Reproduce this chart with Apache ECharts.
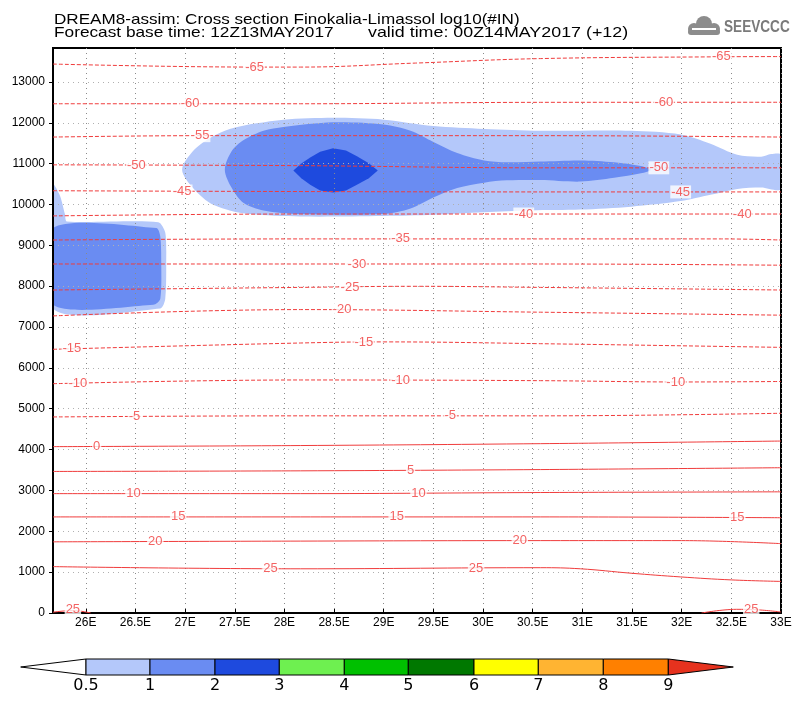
<!DOCTYPE html>
<html><head><meta charset="utf-8">
<script src="https://cdn.jsdelivr.net/npm/echarts@6/dist/echarts.min.js"></script>
<style>html,body{margin:0;padding:0;background:#fff}#c{width:800px;height:704px}</style>
</head><body><div id="c"></div>
<script>
// ---- axes ----
const lonTicks = [26,26.5,27,27.5,28,28.5,29,29.5,30,30.5,31,31.5,32,32.5,33];
const heightTicks = [0,1000,2000,3000,4000,5000,6000,7000,8000,9000,10000,11000,12000,13000];
// ---- colour scale (log10 #IN) ----
const scaleLevels = ['0.5','1','2','3','4','5','6','7','8','9'];
const scaleColors = ['#b4c8fa','#6a8cf2','#1e4ade','#6ef050','#00c000','#007800','#ffff00','#ffb432','#ff8000','#e6321e'];
// ---- shaded areas [lon, height m] ----
const areaLowLeft  = [[25.67,10490],[25.74,10216],[25.79,9766],[25.81,9583],[26.73,9565],[26.80,9311],[26.81,8592],[26.80,7686],[26.75,7454],[25.67,7454]];
const areaMidLeft  = [[25.67,9423],[26.71,9423],[26.75,9220],[26.76,8592],[26.75,7686],[26.68,7544],[25.67,7544]];
const areaLowUpper = [[26.97,10852],[27.08,11308],[27.25,11626],[27.45,11848],[27.72,11985],[27.99,12076],[28.49,12120],[29.0,12076],[29.5,11919],[30.01,11848],[30.58,11804],[31.49,11804],[31.99,11714],[32.29,11486],[32.56,11215],[32.80,11168],[32.90,11234],[33.0,11215],[33.0,10380],[32.80,10417],[32.56,10380],[32.29,10236],[31.99,10082],[31.49,9945],[30.98,9874],[30.48,9854],[30.01,9810],[29.5,9746],[29.0,9717],[28.16,9705],[27.65,9766],[27.45,9854],[27.25,10035],[27.08,10402]];
const areaMidUpper = [[27.40,10852],[27.47,11308],[27.59,11577],[27.79,11804],[27.99,11895],[28.49,12012],[29.0,11959],[29.27,11804],[29.50,11530],[29.74,11259],[30.01,11078],[30.24,11034],[30.58,11051],[30.98,11078],[31.32,11034],[31.59,10940],[31.69,10852],[31.59,10762],[31.32,10652],[30.98,10560],[30.58,10600],[30.24,10590],[30.01,10534],[29.74,10402],[29.50,10172],[29.27,9901],[29.0,9766],[28.16,9766],[27.79,9854],[27.59,10035],[27.47,10402]];
const areaHighUpper = [[28.09,10833],[28.17,11000],[28.26,11150],[28.36,11290],[28.49,11379],[28.62,11320],[28.73,11180],[28.85,11010],[28.94,10833],[28.85,10640],[28.73,10480],[28.62,10340],[28.49,10290],[28.36,10340],[28.26,10480],[28.17,10640]];
// ---- temperature contours (degC) [lon, height m] ----
const tM65 = [[25.67,13437],[27.70,13363],[28.16,13363],[29.32,13461],[30.58,13571],[32.40,13615],[33,13620]];
const tM60 = [[25.67,12465],[28.16,12465],[30.58,12500],[33,12502]];
const tM55 = [[25.67,11650],[27.15,11684],[30.58,11684],[33,11650]];
const tM50 = [[25.67,10970],[28.16,10950],[30.58,10897],[33,10897]];
const tM45 = [[25.67,10336],[30.58,10307],[33,10307]];
const tM40 = [[25.67,9720],[28.16,9766],[33,9766]];
const tM35 = [[25.67,9130],[28.16,9157],[32.4,9157],[33,9130]];
const tM30 = [[25.67,8543],[30.58,8543],[33,8513]];
const tM25 = [[25.67,7906],[28.16,7970],[29.3,7997],[30.58,7970],[33,7906]];
const tM20 = [[25.67,7272],[28.16,7427],[30.58,7363],[33,7290]];
const tM15 = [[25.67,6455],[28.16,6609],[29,6636],[30.58,6592],[33,6502]];
const tM10 = [[25.67,5613],[28.16,5704],[30.58,5687],[32,5655],[33,5667]];
const tM5  = [[25.67,4799],[28.16,4826],[30.58,4826],[33,4889]];
const t0   = [[25.67,4072],[28.16,4099],[30.58,4145],[33,4209]];
const t5   = [[25.67,3465],[28.16,3480],[30.58,3511],[33,3556]];
const t10  = [[25.67,2922],[28.16,2922],[30.58,2949],[33,2966]];
const t15  = [[25.67,2352],[30.58,2352],[33,2332]];
const t20  = [[25.67,1742],[28.16,1760],[30.58,1772],[32,1772],[33,1698]];
const t25  = [[25.67,1135],[28.16,1082],[30.58,1109],[30.98,1082],[31.49,974],[31.99,883],[32.5,810],[33,773]];
const t25bl = [[25.67,20],[25.87,60],[26.05,0]];
const t25br = [[32.2,0],[32.55,90],[32.75,80],[33,25]];
// contour labels [lon, height, text]
const contourLabels = [
  [27.70,13363,'-65'],[32.40,13615,'-65'],
  [27.05,12465,'-60'],[31.82,12500,'-60'],
  [27.15,11684,'-55'],
  [26.51,10965,'-50'],[31.77,10897,'-50'],
  [26.97,10330,'-45'],[31.99,10307,'-45'],
  [30.41,9766,'-40'],[32.61,9766,'-40'],
  [29.17,9157,'-35'],
  [28.73,8543,'-30'],
  [28.66,7975,'-25'],
  [28.58,7430,'-20'],
  [25.86,6470,'-15'],[28.80,6630,'-15'],
  [25.92,5620,'-10'],[29.17,5700,'-10'],[31.94,5645,'-10'],
  [26.49,4805,'-5'],[29.67,4826,'-5'],
  [26.11,4075,'0'],
  [29.27,3490,'5'],
  [26.48,2922,'10'],[29.35,2935,'10'],
  [26.93,2352,'15'],[29.13,2352,'15'],[32.56,2340,'15'],
  [26.70,1745,'20'],[30.37,1772,'20'],
  [27.86,1090,'25'],[29.93,1100,'25'],
  [25.87,90,'25'],[32.70,80,'25']
];

const RED = '#f03c3c';
const contours = [
  [tM65,true],[tM60,true],[tM55,true],[tM50,true],[tM45,true],[tM40,true],[tM35,true],
  [tM30,true],[tM25,true],[tM20,true],[tM15,true],[tM10,true],[tM5,true],
  [t0,false],[t5,false],[t10,false],[t15,false],[t20,false],[t25,false],[t25bl,false],[t25br,false]
];

function areaSeries(points, color, smooth) {
  return {
    type: 'custom', z: 1, silent: true, clip: true,
    data: [points[0]],
    renderItem: function (params, api) {
      return {
        type: 'polygon',
        shape: { points: points.map(function (p) { return api.coord(p); }), smooth: smooth },
        style: { fill: color }
      };
    }
  };
}

const series = [
  areaSeries(areaLowLeft, scaleColors[0], 0.25),
  areaSeries(areaMidLeft, scaleColors[1], 0.25),
  areaSeries(areaLowUpper, scaleColors[0], 0.3),
  areaSeries(areaMidUpper, scaleColors[1], 0.3),
  areaSeries(areaHighUpper, scaleColors[2], 0)
];
contours.forEach(function (c) {
  series.push({
    type: 'line', z: 4, silent: true, data: c[0], smooth: 0.4, symbol: 'none',
    lineStyle: { color: RED, width: 1, type: c[1] ? [4, 2] : 'solid' }
  });
});
series.push({
  type: 'scatter', z: 6, silent: true, symbolSize: 0, data: contourLabels,
  label: {
    show: true, position: 'inside', formatter: function (p) { return p.data[2]; },
    color: RED, fontSize: 13, fontFamily: 'Liberation Sans, Arial, sans-serif',
    backgroundColor: '#fff', padding: [0, 1]
  }
});

// colour bar graphic
const cbEdges = [86,150,215,279.3,344.3,408.3,474,538.3,603.3,668.3];
const cbTop = 659, cbBot = 675, cbMid = 667;
const graphics = [];
graphics.push({ type: 'polygon', shape: { points: [[20.7,cbMid],[86,cbTop],[86,cbBot]] }, style: { fill: '#fff', stroke: '#000', lineWidth: 1 } });
for (let i = 0; i < cbEdges.length - 1; i++) {
  graphics.push({ type: 'rect', shape: { x: cbEdges[i], y: cbTop, width: cbEdges[i+1]-cbEdges[i], height: cbBot-cbTop }, style: { fill: scaleColors[i], stroke: '#000', lineWidth: 1 } });
}
graphics.push({ type: 'polygon', shape: { points: [[668.3,cbTop],[733.3,cbMid],[668.3,cbBot]] }, style: { fill: scaleColors[9], stroke: '#000', lineWidth: 1 } });
scaleLevels.forEach(function (t, i) {
  graphics.push({ type: 'text', x: cbEdges[i], y: 686, style: { text: t, fill: '#000', font: '16px "DejaVu Sans", sans-serif', textAlign: 'center', textVerticalAlign: 'middle' } });
});
// titles
const TF = '15px "Liberation Sans", Arial, sans-serif';
graphics.push({ type: 'text', x: 54, y: 20, scaleX: 1.14, style: { text: 'DREAM8-assim: Cross section Finokalia-Limassol log10(#IN)', fill: '#000', font: TF, textVerticalAlign: 'middle' } });
graphics.push({ type: 'text', x: 54, y: 33, scaleX: 1.15, style: { text: 'Forecast base time: 12Z13MAY2017', fill: '#000', font: TF, textVerticalAlign: 'middle' } });
graphics.push({ type: 'text', x: 368, y: 33, scaleX: 1.19, style: { text: 'valid time: 00Z14MAY2017 (+12)', fill: '#000', font: TF, textVerticalAlign: 'middle' } });
// logo
graphics.push({ type: 'group', children: [
  { type: 'circle', shape: { cx: 694, cy: 29, r: 6 }, style: { fill: '#8c8c8c' } },
  { type: 'circle', shape: { cx: 704, cy: 24, r: 8 }, style: { fill: '#8c8c8c' } },
  { type: 'circle', shape: { cx: 714, cy: 29, r: 6 }, style: { fill: '#8c8c8c' } },
  { type: 'rect', shape: { x: 688, y: 29, width: 32, height: 6, r: 3 }, style: { fill: '#8c8c8c' } },
  { type: 'rect', shape: { x: 692, y: 28, width: 24, height: 2 }, style: { fill: '#fff' } }
]});
graphics.push({ type: 'text', x: 724, y: 28, scaleX: 0.85, style: { text: 'SEEVCCC', fill: '#7a7a7a', font: 'bold 16px "Liberation Sans Narrow", "Liberation Sans", sans-serif', textVerticalAlign: 'middle' } });

const chart = echarts.init(document.getElementById('c'), null, { renderer: 'canvas' });
chart.setOption({
  animation: false,
  backgroundColor: '#fff',
  grid: { left: 53, right: 19, top: 48, bottom: 91, containLabel: false, outerBoundsMode: 'none', show: true, borderColor: '#000', borderWidth: 2, backgroundColor: 'transparent', z: 3 },
  xAxis: {
    type: 'value', min: 25.67, max: 33, z: 3,
    axisLine: { show: true, lineStyle: { color: '#000', width: 2 } },
    axisTick: { show: true, inside: true, length: 4, customValues: lonTicks, lineStyle: { color: '#000' } },
    axisLabel: { customValues: lonTicks, formatter: function (v) { return v + 'E'; }, color: '#000', fontSize: 12, margin: 4, fontFamily: 'Liberation Sans, Arial, sans-serif' },
    splitLine: { show: true, lineStyle: { color: '#8a8a8a', type: [1, 4], width: 1 } }
  },
  yAxis: {
    type: 'value', min: 0, max: 13830, z: 3,
    axisLine: { show: true, lineStyle: { color: '#000', width: 2 } },
    axisTick: { show: true, inside: false, length: 4, customValues: heightTicks, lineStyle: { color: '#000' } },
    axisLabel: { customValues: heightTicks, formatter: function (v) { return String(v); }, color: '#000', fontSize: 12, margin: 8, fontFamily: 'Liberation Sans, Arial, sans-serif' },
    splitLine: { show: true, lineStyle: { color: '#b0b0b0', type: [1, 4], width: 1 } }
  },
  series: series,
  graphic: graphics
});
</script></body></html>
